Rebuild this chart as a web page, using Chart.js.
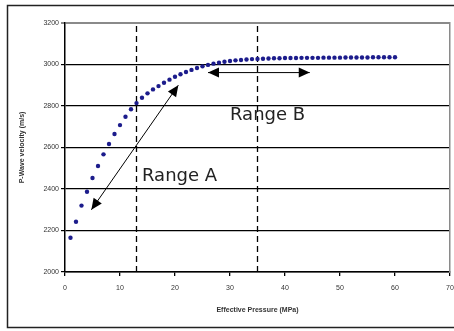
<!DOCTYPE html>
<html lang="en">
<head>
  <meta charset="UTF-8">
  <title>P-Wave velocity vs Effective Pressure</title>
  <script src="https://cdn.jsdelivr.net/npm/chart.js"></script>
  <style>
    body { margin: 0; background: #fff; }
    .wrap { position: relative; width: 454px; height: 331px; }
  </style>
</head>
<body>
  <div class="wrap"><canvas id="chart" width="454" height="331"></canvas></div>
  <script>
    // effective pressure (MPa)
    const pressure = [
      1, 2, 3, 4, 5, 6, 7, 8, 9, 10,
      11, 12, 13, 14, 15, 16, 17, 18, 19, 20,
      21, 22, 23, 24, 25, 26, 27, 28, 29, 30,
      31, 32, 33, 34, 35, 36, 37, 38, 39, 40,
      41, 42, 43, 44, 45, 46, 47, 48, 49, 50,
      51, 52, 53, 54, 55, 56, 57, 58, 59, 60
    ];
    // P-wave velocity (m/s)
    const velocity = [
      2165, 2242, 2320, 2387, 2453, 2511, 2567, 2617, 2665, 2708,
      2748, 2784, 2814, 2840, 2861, 2880, 2896, 2912, 2927, 2941,
      2953, 2964, 2974, 2983, 2991, 2998, 3004, 3009, 3013, 3017,
      3020, 3022, 3024, 3026, 3027, 3028, 3029, 3030, 3030, 3031,
      3031, 3031, 3032, 3032, 3032, 3032, 3033, 3033, 3033, 3033,
      3034, 3034, 3034, 3034, 3034, 3035, 3035, 3035, 3035, 3035
    ];
    const xTicks = [0, 10, 20, 30, 40, 50, 60, 70];
    const yTicks = [2000, 2200, 2400, 2600, 2800, 3000, 3200];

    // range boundaries (MPa)
    const rangeLines = [13, 35];
    // arrows: [x1, y1, x2, y2]
    const arrowA = [4.8, 2300, 20.6, 2900];
    const arrowB = [26, 2961, 44.5, 2961];
    // labels: [text, x, y]
    const rangeLabels = [['Range A', 14, 2463], ['Range B', 30, 2757]];

    const points = pressure.map((p, i) => ({ x: p, y: velocity[i] }));

    const datasets = [{
      label: 'Vp',
      data: points,
      showLine: false,
      pointRadius: 2.2,
      pointHoverRadius: 2.2,
      backgroundColor: '#1c1c8c',
      borderWidth: 0
    }];
    rangeLines.forEach(x => datasets.push({
      data: [{ x: x, y: yTicks[0] }, { x: x, y: yTicks[yTicks.length - 1] }],
      showLine: true, borderColor: '#000', borderWidth: 1.3,
      borderDash: [6, 4], pointRadius: 0
    }));
    [arrowA, arrowB].forEach(a => datasets.push({
      data: [{ x: a[0], y: a[1] }, { x: a[2], y: a[3] }],
      showLine: true, borderColor: '#000', borderWidth: 1,
      pointRadius: 0, arrow: true
    }));

    const frame = {
      id: 'frame',
      beforeDraw(chart) {
        const c = chart.ctx;
        c.save();
        c.fillStyle = '#fff';
        c.fillRect(0, 0, chart.width, chart.height);
        c.strokeStyle = '#222';
        c.lineWidth = 1.5;
        c.strokeRect(7.5, 5.5, 470, 322);
        c.restore();
      },
      afterDatasetsDraw(chart) {
        const c = chart.ctx;
        const xs = chart.scales.x, ys = chart.scales.y;
        c.save();
        chart.data.datasets.forEach((ds, i) => {
          if (!ds.arrow) return;
          const pts = chart.getDatasetMeta(i).data;
          const head = (from, to) => {
            const ang = Math.atan2(to.y - from.y, to.x - from.x);
            const len = 11, w = 5;
            c.beginPath();
            c.moveTo(to.x, to.y);
            c.lineTo(to.x - len * Math.cos(ang) + w * Math.sin(ang), to.y - len * Math.sin(ang) - w * Math.cos(ang));
            c.lineTo(to.x - len * Math.cos(ang) - w * Math.sin(ang), to.y - len * Math.sin(ang) + w * Math.cos(ang));
            c.closePath();
            c.fillStyle = '#000';
            c.fill();
          };
          head(pts[0], pts[1]);
          head(pts[1], pts[0]);
        });
        c.font = '18px "DejaVu Sans"';
        c.fillStyle = '#222';
        c.textBaseline = 'middle';
        rangeLabels.forEach(l => {
          c.fillText(l[0], xs.getPixelForValue(l[1]), ys.getPixelForValue(l[2]));
        });
        c.restore();
      }
    };

    new Chart(document.getElementById('chart'), {
      type: 'scatter',
      data: { datasets: datasets },
      plugins: [frame],
      options: {
        responsive: false,
        animation: false,
        events: [],
        layout: { padding: { top: 23, right: 4, left: 0, bottom: 0 } },
        plugins: { legend: { display: false }, tooltip: { enabled: false } },
        scales: {
          x: {
            type: 'linear', min: 0, max: 70,
            afterBuildTicks: s => { s.ticks = xTicks.map(v => ({ value: v })); },
            afterFit: s => { s.height = 59; s.paddingRight = 0; s.paddingLeft = 0; },
            grid: { drawOnChartArea: false, drawTicks: true, tickLength: 4, color: '#000', lineWidth: 1.3 },
            border: { color: '#000', width: 1.5 },
            ticks: { padding: 8, color: '#333', font: { family: 'Liberation Sans', size: 7 }, maxRotation: 0 },
            title: {
              display: true, text: 'Effective Pressure (MPa)', color: '#333',
              font: { family: 'Liberation Sans', size: 7, weight: 'bold' },
              padding: { top: 0, bottom: 17 }
            }
          },
          y: {
            type: 'linear', min: 2000, max: 3200,
            afterBuildTicks: s => { s.ticks = yTicks.map(v => ({ value: v })); },
            afterFit: s => { s.width = 65; s.paddingTop = 0; s.paddingBottom = 0; },
            grid: {
              tickLength: 4,
              color: c => c.tick && c.tick.value === 3200 ? '#8a8a8a' : '#000',
              lineWidth: c => c.tick && c.tick.value === 3200 ? 2 : 1.2
            },
            border: { color: '#000', width: 1.5 },
            ticks: { padding: 2, color: '#333', font: { family: 'Liberation Sans', size: 7 }, callback: v => String(v) },
            title: {
              display: true, text: 'P-Wave velocity (m/s)', color: '#333',
              font: { family: 'Liberation Sans', size: 7, weight: 'bold' },
              padding: { top: 18, bottom: 0 }
            }
          },
          y2: {
            type: 'linear', position: 'right', min: 2000, max: 3200,
            afterFit: s => { s.width = 0; },
            grid: { drawOnChartArea: false, drawTicks: false },
            border: { color: '#8a8a8a', width: 1.5 },
            ticks: { display: false }
          }
        }
      }
    });
  </script>
</body>
</html>
